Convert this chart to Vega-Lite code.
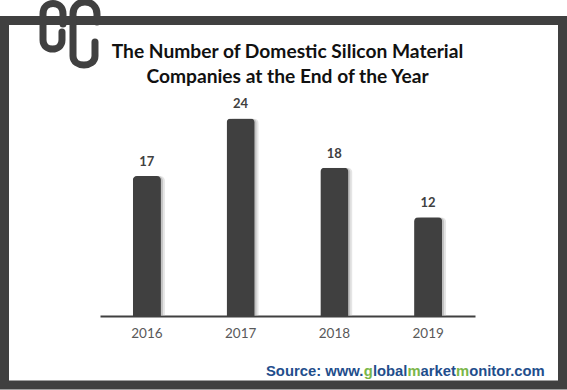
{
  "$schema": "https://vega.github.io/schema/vega-lite/v6.json",
  "width": 375,
  "height": 214,
  "autosize": {"type": "none"},
  "padding": {"left": 100, "top": 102, "right": 92, "bottom": 74},
  "background": "white",
  "title": {
    "text": ["The Number of Domestic Silicon Material", "Companies at the End of the Year"],
    "font": "Lato",
    "fontSize": 19.2,
    "fontWeight": "bold",
    "color": "#111111",
    "lineHeight": 25,
    "offset": -99,
    "anchor": "middle",
    "frame": "group"
  },
  "datasets": {
    "companies": [
      {"year": "2016", "count": 17},
      {"year": "2017", "count": 24},
      {"year": "2018", "count": 18},
      {"year": "2019", "count": 12}
    ]
  },
  "layer": [
    {
      "data": {"values": [{}]},
      "mark": {"type": "rect", "fill": "transparent", "stroke": "#404040", "strokeWidth": 9},
      "encoding": {
        "x": {"value": -95.5},
        "x2": {"value": 462.5},
        "y": {"value": -81.5},
        "y2": {"value": 283}
      }
    },
    {
      "data": {"values": [{}]},
      "mark": {
        "type": "point",
        "shape": "M-0.2,-0.314 L-0.2,-0.6 C-0.2,-1 -0.771,-1 -0.771,-0.6 L-0.771,0.143 C-0.771,0.486 -0.229,0.486 -0.229,0.143 L-0.229,-0.086 M0.771,-0.371 L0.771,-0.6 C0.771,-1.057 0.086,-1.057 0.086,-0.6 L0.086,0.6 C0.086,0.943 0.714,0.943 0.714,0.6 L0.714,0.2",
        "size": 4900,
        "filled": false,
        "stroke": "#404040",
        "strokeWidth": 7,
        "strokeCap": "round",
        "opacity": 1
      },
      "encoding": {"x": {"value": -30}, "y": {"value": -67}}
    },
    {
      "data": {"name": "companies"},
      "encoding": {
        "x": {
          "field": "year",
          "type": "ordinal",
          "scale": {"paddingInner": 0.7, "paddingOuter": 0.35},
          "axis": {
            "title": null,
            "labelAngle": 0,
            "ticks": false,
            "grid": false,
            "domainColor": "#404040",
            "domainWidth": 2,
            "labelColor": "#595959",
            "labelFont": "Lato",
            "labelFontSize": 13.5,
            "labelPadding": 10
          }
        },
        "y": {
          "field": "count",
          "type": "quantitative",
          "scale": {"domain": [0, 26], "nice": false},
          "axis": null
        }
      },
      "layer": [
        {
          "mark": {"type": "bar", "color": "#b5b5b5", "opacity": 0.35, "xOffset": 4, "cornerRadiusTopLeft": 5, "cornerRadiusTopRight": 5},
          "encoding": {}
        },
        {
          "mark": {"type": "bar", "color": "#9a9a9a", "opacity": 0.45, "xOffset": 2, "cornerRadiusTopLeft": 5, "cornerRadiusTopRight": 5},
          "encoding": {}
        },
        {
          "mark": {"type": "bar", "color": "#404040", "cornerRadiusTopLeft": 4, "cornerRadiusTopRight": 4},
          "encoding": {}
        },
        {
          "mark": {"type": "text", "font": "Lato", "fontWeight": "bold", "fontSize": 13, "color": "#404040", "baseline": "middle", "dy": -14},
          "encoding": {"text": {"field": "count", "type": "quantitative"}}
        }
      ]
    },
    {
      "data": {"values": [{}]},
      "mark": {"type": "text", "text": "Source: www.", "font": "Liberation Sans", "fontWeight": "bold", "fontSize": 14.8, "color": "#1f4e8c", "align": "left", "baseline": "alphabetic"},
      "encoding": {"x": {"value": 166}, "y": {"value": 274}}
    },
    {
      "data": {"values": [{}]},
      "mark": {"type": "text", "text": "g", "font": "Liberation Sans", "fontWeight": "bold", "fontSize": 14.8, "color": "#7ab648", "align": "left", "baseline": "alphabetic"},
      "encoding": {"x": {"value": 263.87}, "y": {"value": 274}}
    },
    {
      "data": {"values": [{}]},
      "mark": {"type": "text", "text": "lobal", "font": "Liberation Sans", "fontWeight": "bold", "fontSize": 14.8, "color": "#1f4e8c", "align": "left", "baseline": "alphabetic"},
      "encoding": {"x": {"value": 272.92}, "y": {"value": 274}}
    },
    {
      "data": {"values": [{}]},
      "mark": {"type": "text", "text": "m", "font": "Liberation Sans", "fontWeight": "bold", "fontSize": 14.8, "color": "#7ab648", "align": "left", "baseline": "alphabetic"},
      "encoding": {"x": {"value": 307.46}, "y": {"value": 274}}
    },
    {
      "data": {"values": [{}]},
      "mark": {"type": "text", "text": "arket", "font": "Liberation Sans", "fontWeight": "bold", "fontSize": 14.8, "color": "#1f4e8c", "align": "left", "baseline": "alphabetic"},
      "encoding": {"x": {"value": 320.62}, "y": {"value": 274}}
    },
    {
      "data": {"values": [{}]},
      "mark": {"type": "text", "text": "m", "font": "Liberation Sans", "fontWeight": "bold", "fontSize": 14.8, "color": "#7ab648", "align": "left", "baseline": "alphabetic"},
      "encoding": {"x": {"value": 355.99}, "y": {"value": 274}}
    },
    {
      "data": {"values": [{}]},
      "mark": {"type": "text", "text": "onitor.com", "font": "Liberation Sans", "fontWeight": "bold", "fontSize": 14.8, "color": "#1f4e8c", "align": "left", "baseline": "alphabetic"},
      "encoding": {"x": {"value": 369.14}, "y": {"value": 274}}
    }
  ],
  "config": {"view": {"stroke": null}}
}
